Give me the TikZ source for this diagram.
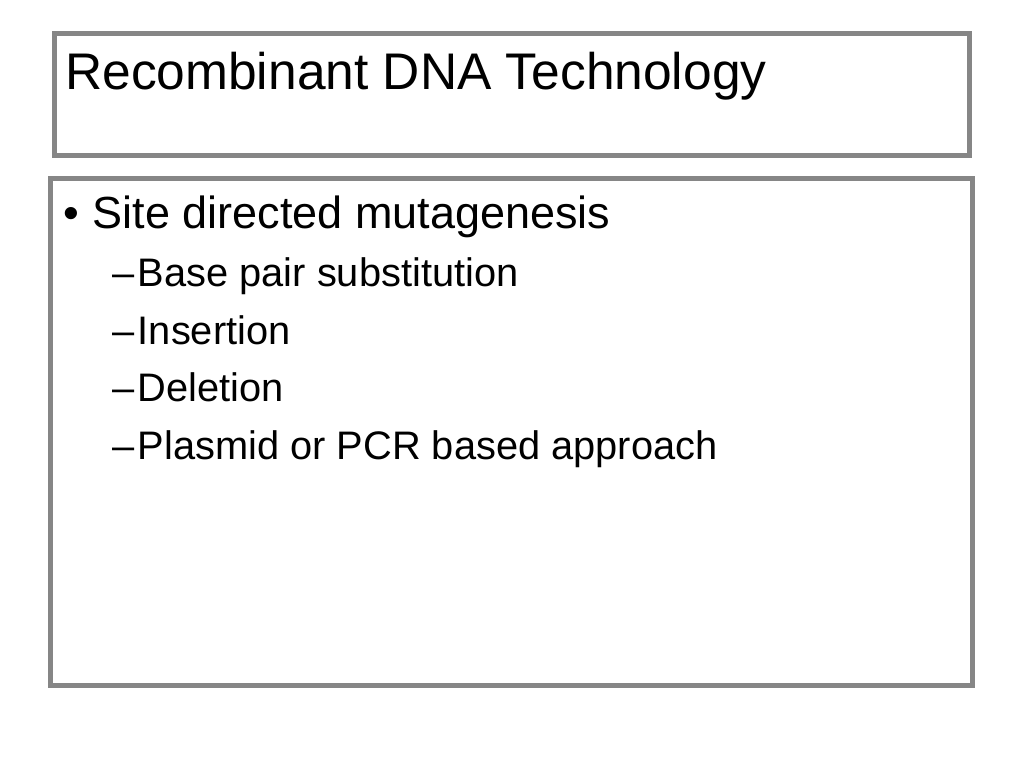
\documentclass[tikz,border=0pt]{standalone}
\usepackage{fontspec}
\setmainfont{Liberation Sans}
\usepackage{tikz}
\usetikzlibrary{positioning}
\definecolor{framegray}{RGB}{134,134,134}

\begin{document}
\begin{tikzpicture}[x=1pt, y=-1pt,
    slidebox/.style={draw=framegray, line width=5pt, inner sep=0pt},
    titletext/.style={anchor=base west, inner sep=0pt, font=\fontsize{51.5}{60}\selectfont},
    itemtext/.style={anchor=base west, inner sep=0pt, font=\fontsize{45}{52}\selectfont},
    subtext/.style={anchor=base west, inner sep=0pt, font=\fontsize{39.8}{46}\selectfont},
    ]

    \useasboundingbox (0,0) rectangle (1024,768);

    \node[slidebox, minimum width=915.3pt, minimum height=122pt] (titlebox) at (512.15,94.5) {};
    \node[slidebox, minimum width=922.2pt, minimum height=507pt] (bodybox) at (511.6,432) {};

    \node[titletext] (title) at (65,89.3) {Recombinant DNA Technology};

    \node[itemtext] (bullet) at (63.5,228.3) {\textbullet};
    \node[itemtext] (site) at (92.5,228.3) {Site directed mutagenesis};

    \node[subtext] (dash1) at (112.7,286.7) {–};
    \node[subtext] (base) at (137.7,286.7) {Base pair substitution};
    \node[subtext] (dash2) at (112.7,344.2) {–};
    \node[subtext] (insertion) at (137.7,344.2) {Insertion};
    \node[subtext] (dash3) at (112.7,401.7) {–};
    \node[subtext] (deletion) at (137.7,401.7) {Deletion};
    \node[subtext] (dash4) at (112.7,459.2) {–};
    \node[subtext] (plasmid) at (137.7,459.2) {Plasmid or PCR based approach};
\end{tikzpicture}
\end{document}
